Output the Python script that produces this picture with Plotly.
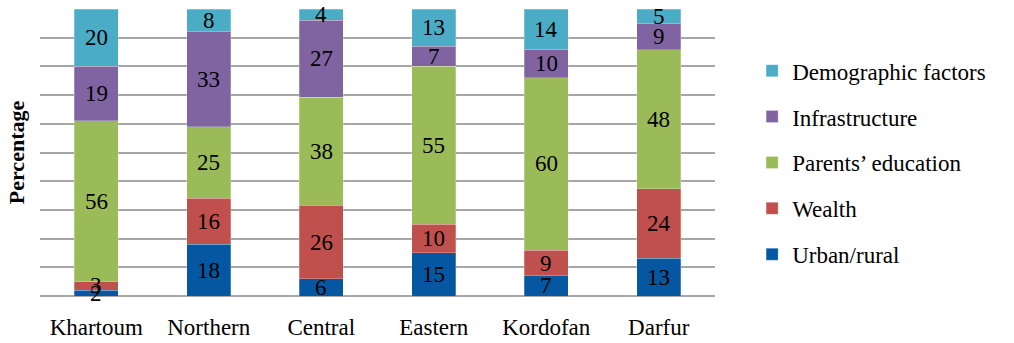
import plotly.graph_objects as go

regions = ["Khartoum", "Northern", "Central", "Eastern", "Kordofan", "Darfur"]

urban_rural = [2, 18, 6, 15, 7, 13]
wealth = [3, 16, 26, 10, 9, 24]
parents_education = [56, 25, 38, 55, 60, 48]
infrastructure = [19, 33, 27, 7, 10, 9]
demographic = [20, 8, 4, 13, 14, 5]

series = [
    ("Urban/rural", urban_rural, "#0457A0"),
    ("Wealth", wealth, "#C0504D"),
    ("Parents\u2019 education", parents_education, "#9BBB59"),
    ("Infrastructure", infrastructure, "#8064A2"),
    ("Demographic factors", demographic, "#4BACC6"),
]

FONT = "Liberation Serif, Times New Roman, serif"

fig = go.Figure()
for i, (name, vals, color) in enumerate(series):
    fig.add_trace(go.Bar(
        x=regions, y=vals, name=name, legendgroup=name,
        legendrank=len(series) - i,
        marker=dict(color=color, line=dict(color="rgba(255,255,255,0.5)", width=0.5)),
        hoverinfo="x+name+text", hovertext=[str(v) for v in vals],
    ))

# value labels centred on each stacked segment (bars are normalised to 100%)
totals = [sum(s[1][j] for s in series) for j in range(len(regions))]
annotations = []
for j, region in enumerate(regions):
    base = 0
    for name, vals, color in series:
        v = vals[j]
        mid = (base + v / 2) / totals[j] * 100
        annotations.append(dict(
            x=region, y=mid, xref="x", yref="y", text=str(v),
            showarrow=False, xanchor="center", yanchor="middle",
            font=dict(family=FONT, size=23, color="black"),
        ))
        base += v

fig.update_layout(
    barmode="stack",
    barnorm="percent",
    bargap=0.61,
    width=1014, height=343,
    margin=dict(l=40, r=299, t=9, b=47),
    paper_bgcolor="white", plot_bgcolor="white",
    font=dict(family=FONT, size=23, color="black"),
    annotations=annotations,
    legend=dict(
        x=1.055, y=0.86, xanchor="left", yanchor="top",
        traceorder="grouped", tracegroupgap=13,
        font=dict(family=FONT, size=23, color="black"),
        itemwidth=30,
    ),
    xaxis=dict(
        showgrid=False, showline=False, zeroline=False,
        ticks="", ticklabelstandoff=15, automargin=False,
        tickfont=dict(family=FONT, size=23),
    ),
    yaxis=dict(
        range=[0, 100], dtick=10, automargin=False,
        showgrid=True, gridcolor="#A6A6A6", gridwidth=2,
        zeroline=True, zerolinecolor="#A6A6A6", zerolinewidth=2,
        showticklabels=False, ticks="",
        title=dict(text="<b>Percentage</b>", standoff=8,
                   font=dict(family=FONT, size=22)),
    ),
)

fig.write_html("out.html")
